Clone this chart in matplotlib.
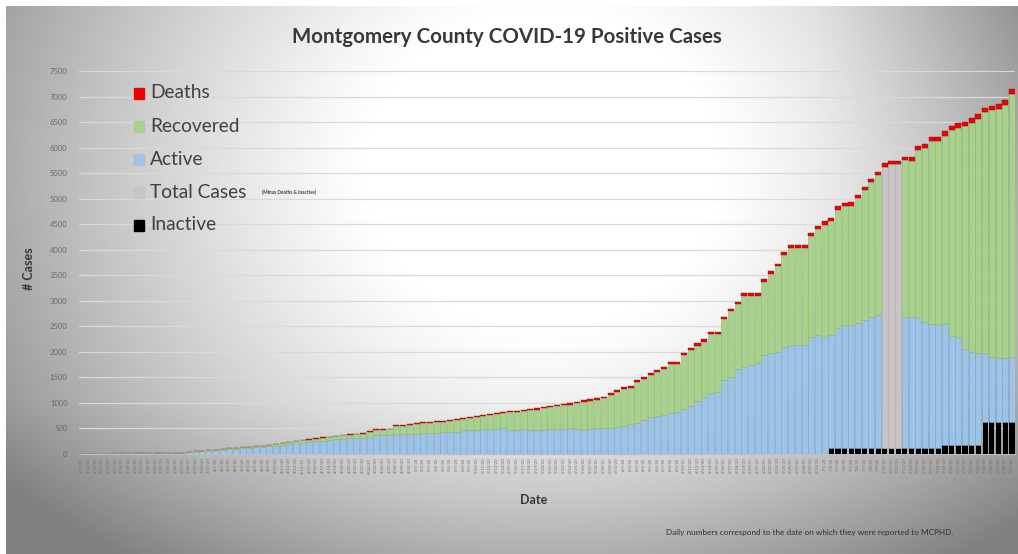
import numpy as np
import pandas as pd
import matplotlib
matplotlib.use("Agg")
import matplotlib.pyplot as plt
from matplotlib.patches import Rectangle

# daily report dates (one bar per day)
dates = pd.date_range("2020-03-12", periods=140, freq="D")

# cumulative positive cases (top of each bar)
total_cases = [
    0, 0, 0, 0, 0, 1, 1, 1, 2, 2, 3, 4, 5, 8, 10, 12,
    30, 40, 50, 60, 75, 85, 100, 110, 120, 130, 140, 150, 165, 185, 210, 230,
    245, 265, 280, 300, 315, 330, 350, 365, 380, 390, 400, 440, 475, 480, 490, 550,
    560, 570, 590, 610, 620, 630, 640, 660, 680, 700, 720, 740, 760, 780, 800, 820,
    830, 840, 860, 875, 886, 918, 931, 960, 975, 984, 1016, 1049, 1062, 1082, 1114, 1180,
    1245, 1298, 1324, 1441, 1494, 1585, 1637, 1702, 1800, 1800, 1964, 2062, 2160, 2239, 2389, 2389,
    2683, 2833, 2977, 3141, 3141, 3141,
    3418, 3581, 3724, 3952, 4095, 4095, 4095, 4330, 4459, 4551, 4623, 4844, 4915, 4928, 5078, 5234,
    5384, 5527, 5697, 5742, 5742, 5820, 5820, 6035, 6068, 6198, 6211, 6315, 6426, 6471, 6510, 6575,
    6653, 6784, 6816, 6849, 6933, 7142,
]

deaths = [
    0, 0, 0, 0, 0, 0, 0, 0, 0, 0, 0, 0, 0, 0, 0, 0,
    0, 0, 0, 0, 1, 1, 1, 1, 1, 2, 2, 2, 3, 3, 4, 4,
    5, 5, 6, 6, 7, 8, 8, 8, 9, 10, 11, 11, 12, 13, 13, 14,
    15, 15, 16, 16, 17, 18, 18, 19, 20, 20, 20, 21, 22, 23, 23, 24,
    24, 25, 25, 26, 27, 27, 28, 28, 29, 30, 30, 31, 31, 32, 33, 33,
    34, 35, 35, 36, 37, 38, 38, 39, 40, 40, 41, 42, 43, 44, 45, 45,
    46, 47, 48, 48, 49, 50,
    51, 52, 53, 55, 56, 56, 57, 58, 60, 61, 62, 63, 64, 65, 66, 68,
    69, 70, 72, 73, 73, 74, 75, 76, 78, 79, 80, 81, 83, 84, 85, 86,
    88, 89, 90, 91, 93, 96,
]

# active cases; None = days reported only as a total (no active/recovered split)
active = [
    0, 0, 0, 0, 0, 1, 1, 1, 2, 2, 3, 4, 5, 8, 10, 12,
    30, 38, 48, 56, 70, 78, 90, 98, 105, 112, 120, 128, 140, 155, 175, 190,
    200, 215, 225, 240, 250, 262, 275, 285, 295, 300, 305, 330, 355, 360, 360, 375,
    380, 385, 390, 395, 400, 410, 420, 425, 430, 455, 460, 470, 480, 485, 490, 495,
    470, 470, 475, 470, 461, 470, 480, 485, 490, 494, 490, 470, 480, 494, 494, 500,
    520, 539, 570, 604, 650, 710, 730, 755, 790, 820, 870, 931, 1020, 1114, 1180, 1212,
    1441, 1506, 1651, 1690, 1735, 1768,
    1931, 1964, 1996, 2094, 2127, 2127, 2127, 2290, 2323, 2290,
    2223, 2354, 2420, 2420, 2452, 2518, 2570, 2616,
    None, None, None,
    2583, 2570, 2551, 2485, 2439, 2420,
    2369, 2134, 2120, 1873, 1826, 1807,
    1354, 1288, 1256, 1256, 1288,
]

inactive = [0] * 112 + [100] * 17 + [170] * 6 + [610] * 5

df = pd.DataFrame({"date": dates, "total": total_cases, "deaths": deaths,
                   "active": active, "inactive": inactive})
split = df["active"].notna()
rest = df["total"] - df["deaths"] - df["inactive"]
df["active_val"] = df["active"].fillna(0)
df["recovered"] = np.where(split, rest - df["active_val"], 0)
df["total_only"] = np.where(split, 0, rest)

GREEN = "#a9d18e"
BLUE = "#9dc3e6"
GRAY = "#c8c3c4"
RED = "#f00000"
BLACK = "#000000"

plt.rcParams["font.family"] = ["Lato", "DejaVu Sans"]

fig = plt.figure(figsize=(10.18, 5.54), dpi=100)

# shaded slide background (white in the middle, grey towards the edges)
bg = fig.add_axes([0.006, 0, 0.994, 0.99], zorder=-10)
u, v = np.meshgrid(np.linspace(0, 1, 400), np.linspace(0, 1, 220))
d = np.sqrt(((u - 0.53) / 0.60) ** 2 + ((v - 0.30) / 1.0) ** 2)
shade = 1 - 0.60 * np.clip(d - 0.28, 0, None) ** 1.2
shade -= 0.12 * np.clip(u - 0.8, 0, None) / 0.2 * np.clip(0.6 - v, 0, None) / 0.6
shade -= 0.10 * np.clip(v - 0.72, 0, None) / 0.28
bg.imshow(np.clip(shade, 0.5, 1), cmap="gray", vmin=0, vmax=1, aspect="auto",
          extent=[0, 1, 1, 0])
bg.axis("off")

ax = fig.add_axes([0.0773, 0.1814, 0.920, 0.6904])
ax.patch.set_alpha(0)
x = np.arange(len(df))
w = 0.9
ax.bar(x, df["inactive"], 0.78, color=BLACK, zorder=3)
bottom = df["inactive"].to_numpy()
ax.bar(x, df["active_val"], w, bottom=bottom, color=BLUE, edgecolor="#7fa6cc",
       linewidth=0.4, zorder=3)
bottom = bottom + df["active_val"].to_numpy()
ax.bar(x, df["total_only"], w, bottom=bottom, color=GRAY, edgecolor="#b0abac",
       linewidth=0.4, zorder=3)
bottom = bottom + df["total_only"].to_numpy()
ax.bar(x, df["recovered"], w, bottom=bottom, color=GREEN, edgecolor="#8db874",
       linewidth=0.4, zorder=3)
bottom = bottom + df["recovered"].to_numpy()
ax.bar(x, df["deaths"], w, bottom=bottom, color=RED, edgecolor="#8a1a1a",
       linewidth=0.3, zorder=3)

ax.set_xlim(-0.5, len(df) - 0.5)
ax.set_ylim(0, 7500)
ax.set_yticks(np.arange(0, 7501, 500))
ax.tick_params(axis="y", length=0, labelsize=5.5, labelcolor="#6a6a6a", pad=8)
ax.set_xticks(x)
ax.set_xticklabels([f"{t.month}/{t.day}/20" for t in df["date"]], rotation=90,
                   fontsize=3.0, color="#707070")
ax.tick_params(axis="x", length=0, pad=3)
ax.grid(axis="y", color="#d9d9d9", linewidth=0.9, zorder=0)
for s in ["top", "right", "left"]:
    ax.spines[s].set_visible(False)
ax.spines["bottom"].set_color("#bfbfbf")

fig.text(0.498, 0.933, "Montgomery County COVID-19 Positive Cases", ha="center",
         va="center", fontsize=14.8, fontweight="bold", color="#383838")
fig.text(0.028, 0.515, "# Cases", rotation=90, ha="center", va="center",
         fontsize=9, fontweight="bold", color="#383838")
fig.text(0.524, 0.097, "Date", ha="center", va="center", fontsize=9,
         fontweight="bold", color="#383838")
fig.text(0.795, 0.038, "Daily numbers correspond to the date on which they were reported to MCPHD.",
         ha="center", va="center", fontsize=5.9, color="#303030")

# legend drawn as coloured squares with labels
legend_items = [("Deaths", RED), ("Recovered", GREEN), ("Active", BLUE),
                ("Total Cases", GRAY), ("Inactive", BLACK)]
for k, (label, col) in enumerate(legend_items):
    yy = 1 - (93 + k * 33) / 554
    fig.patches.append(Rectangle((134 / 1018, yy - 0.011), 10 / 1018, 0.020,
                                 transform=fig.transFigure, color=col, figure=fig))
    fig.text(150 / 1018, yy, label, ha="left", va="center", fontsize=13.8,
             color="#404040")
fig.text(262 / 1018, 1 - 192 / 554, "(Minus Deaths & Inactive)", ha="left",
         va="center", fontsize=3.4, fontweight="bold", color="#404040")

fig.savefig("out.png", dpi=100)
